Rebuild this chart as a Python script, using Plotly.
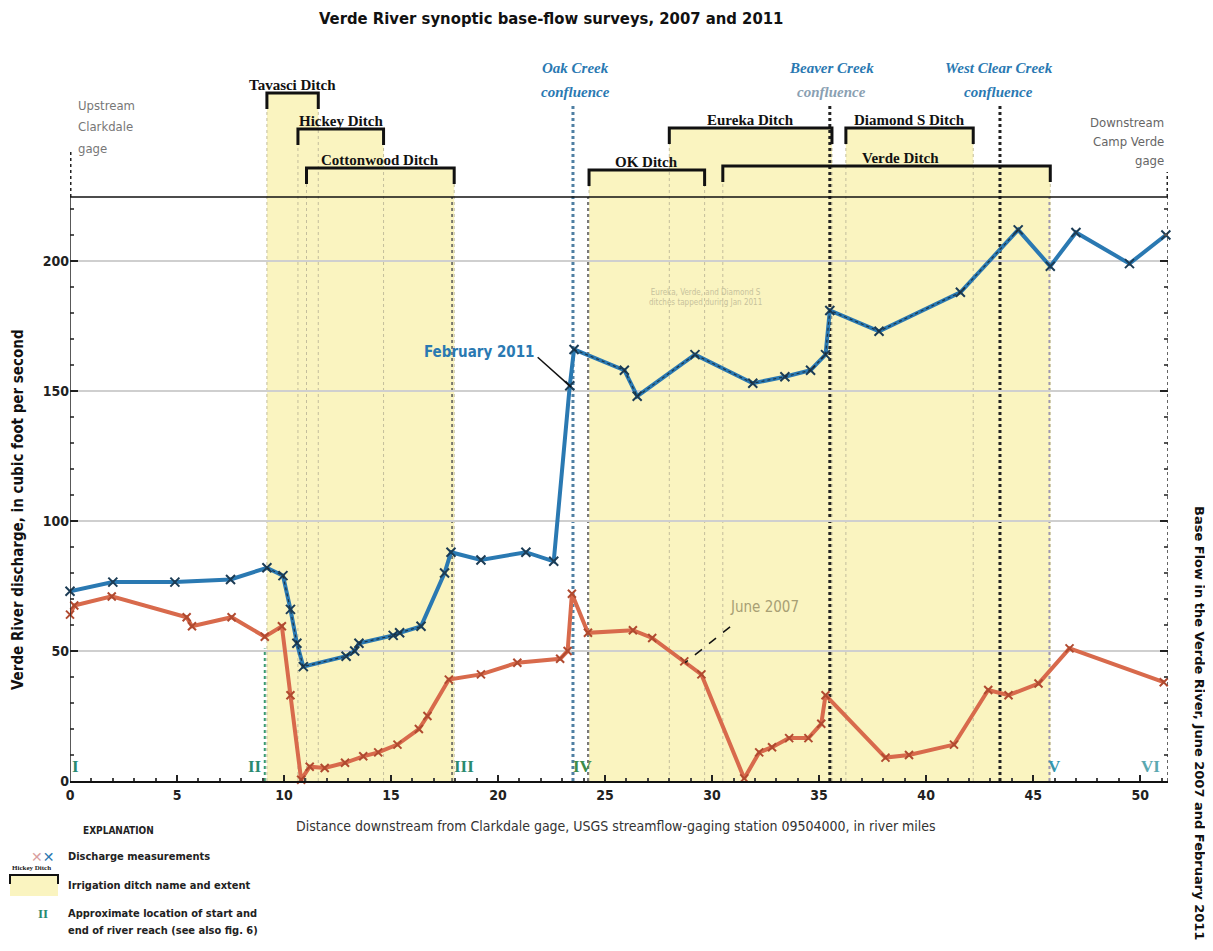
import plotly.graph_objects as go

# ---------------- data ----------------
feb2011_miles = [0.0, 2.0, 4.9, 7.5, 9.2, 9.95, 10.3, 10.6, 10.9, 12.9, 13.3, 13.5, 15.1, 15.4, 16.4,
                 17.5, 17.8, 19.2, 21.3, 22.6, 23.35, 23.55, 25.9, 26.5, 29.2, 31.9, 33.4, 34.6,
                 35.3, 35.5, 37.8, 41.6, 44.3, 45.8, 47.0, 49.5, 51.2]
feb2011_cfs = [73, 76.5, 76.5, 77.5, 82, 79, 66, 53, 44, 48, 50, 53, 56, 57, 59.5,
               80, 88, 85, 88, 84.5, 152, 166, 158, 148, 164, 153, 155.5, 158,
               164, 181, 173, 188, 212, 198, 211, 199, 210]

jun2007_miles = [0.0, 0.2, 1.95, 5.45, 5.7, 7.55, 9.1, 9.9, 10.3, 10.8, 11.2, 11.9, 12.85, 13.7,
                 14.4, 15.3, 16.3, 16.7, 17.7, 19.2, 20.9, 22.9, 23.25, 23.45, 24.2, 26.3, 27.2,
                 28.7, 29.5, 31.5, 32.2, 32.8, 33.6, 34.5, 35.1, 35.3, 38.1, 39.2, 41.3, 42.9,
                 43.85, 45.25, 46.7, 51.1]
jun2007_cfs = [64, 67.5, 71, 63, 59.5, 63, 55.5, 59.5, 33, 0.5, 5.5, 5, 7, 9.5,
               11, 14, 20, 25, 39, 41, 45.5, 47, 50, 72, 57, 58, 55,
               46, 41, 1, 11, 13, 16.5, 16.5, 22, 33, 9, 10, 14, 35,
               33, 37.5, 51, 38]

x_ticks = [0, 5, 10, 15, 20, 25, 30, 35, 40, 45, 50]
y_ticks = [0, 50, 100, 150, 200]

ditch_names = ["Tavasci Ditch", "Hickey Ditch", "Cottonwood Ditch", "OK Ditch",
               "Eureka Ditch", "Diamond S Ditch", "Verde Ditch"]
ditch_start = [9.2, 10.65, 11.05, 24.25, 28.0, 36.25, 30.5]
ditch_end = [11.6, 14.65, 17.95, 29.65, 35.6, 42.2, 45.8]

confluence_names = ["Oak Creek", "Beaver Creek", "West Clear Creek"]
confluence_miles = [23.5, 35.5, 43.45]

reach_labels = ["I", "II", "III", "IV", "V", "VI"]
reach_label_miles = [0.25, 8.65, 18.4, 23.95, 46.0, 50.5]
reach_boundaries = [17.85, 24.2, 45.75]

# ---------------- layout geometry ----------------
# the page body adds an 8 px offset, so positions are planned in reference pixels minus 8
OFF = 8
W, H = 1213 - OFF, 951 - OFF
ML, MR, MT, MB = 70 - OFF, 45, 45 - OFF, 170
X_MAX = 51.3
Y_MAX = 283.1
FRAME_TOP = 224.6
PW, PH = W - ML - MR, H - MT - MB


def px_x(px):
    return (px - OFF - ML) / PW


def px_y(py):
    return (H - MB - (py - OFF)) / PH


def cfs_at(py):
    return px_y(py) * Y_MAX


NARROW = "Liberation Sans Narrow, DejaVu Sans Condensed, Arial Narrow, sans-serif"
SERIF = "Liberation Serif, DejaVu Serif, serif"
BLUE = "#2a79b2"
ORANGE = "#d86a4c"
YELLOW = "#faf4c0"
TEAL = "#2a8a70"

ditch_level = [cfs_at(93), cfs_at(129), cfs_at(168), cfs_at(170), cfs_at(128), cfs_at(128), cfs_at(166)]
ditch_label_x = [(a + b) / 2 for a, b in zip(ditch_start, ditch_end)]
ditch_label_x[6] = 38.8
drop = 6.2

shapes = []
annotations = []


def paper_text(px, py, text, font, **kw):
    d = dict(x=px_x(px), y=px_y(py), xref="paper", yref="paper", text=text, showarrow=False,
             xanchor="center", yanchor="middle", font=font)
    d.update(kw)
    annotations.append(d)


# yellow ditch extents
for x0, x1, lv in zip(ditch_start, ditch_end, ditch_level):
    shapes.append(dict(type="rect", xref="x", yref="y", x0=x0, x1=x1, y0=0, y1=lv,
                       fillcolor=YELLOW, line=dict(width=0), layer="below"))

# faint ditch boundary lines
for x0, x1, lv in zip(ditch_start, ditch_end, ditch_level):
    for xv in (x0, x1):
        shapes.append(dict(type="line", xref="x", yref="y", x0=xv, x1=xv, y0=0, y1=lv - drop,
                           line=dict(color="#c3bd9c", width=1, dash="dot"), layer="below"))

# reach boundary dotted lines
for xv, col in zip(reach_boundaries, ["#555555", "#555555", "#9a94b0"]):
    shapes.append(dict(type="line", xref="x", yref="y", x0=xv, x1=xv, y0=0, y1=FRAME_TOP,
                       line=dict(color=col, width=1.5, dash="dot"), layer="below"))
shapes.append(dict(type="line", xref="x", yref="y", x0=9.1, x1=9.1, y0=0, y1=51,
                   line=dict(color="#3a9a70", width=2, dash="dot"), layer="below"))

# confluence lines
conf_colors = ["#4f7fa3", "#222222", "#222222"]
for xv, col in zip(confluence_miles, conf_colors):
    shapes.append(dict(type="line", xref="x", yref="y", x0=xv, x1=xv, y0=0, y1=cfs_at(104),
                       line=dict(color=col, width=3, dash="dot"), layer="below"))

# gage lines
shapes.append(dict(type="line", xref="x", yref="y", x0=0, x1=0, y0=FRAME_TOP, y1=cfs_at(150),
                   line=dict(color="#222", width=3, dash="dot")))
shapes.append(dict(type="line", xref="x", yref="y", x0=X_MAX, x1=X_MAX, y0=FRAME_TOP, y1=cfs_at(172),
                   line=dict(color="#222", width=3, dash="dot")))

# frame lines
shapes.append(dict(type="line", xref="x", yref="y", x0=0, x1=X_MAX, y0=FRAME_TOP, y1=FRAME_TOP,
                   line=dict(color="#111", width=1.5)))
shapes.append(dict(type="line", xref="x", yref="y", x0=0, x1=0, y0=0, y1=FRAME_TOP,
                   line=dict(color="#222", width=1.5)))
shapes.append(dict(type="line", xref="x", yref="y", x0=X_MAX, x1=X_MAX, y0=0, y1=FRAME_TOP,
                   line=dict(color="#333", width=1.5, dash="dot")))

# brackets and labels
for name, x0, x1, lv, lx in zip(ditch_names, ditch_start, ditch_end, ditch_level, ditch_label_x):
    shapes.append(dict(type="path", xref="x", yref="y",
                       path=f"M {x0},{lv - drop} L {x0},{lv} L {x1},{lv} L {x1},{lv - drop}",
                       line=dict(color="#111", width=3)))
    annotations.append(dict(x=lx, y=lv, xref="x", yref="y", text=name, showarrow=False,
                            yanchor="bottom", yshift=-2,
                            font=dict(family=SERIF, size=15, color="#111", weight="bold")))

# confluence labels
conf_sub_colors = [BLUE, "#8aa0b2", BLUE]
conf_label_x = [23.6, 35.6, 43.4]
for name, lx, sc in zip(confluence_names, conf_label_x, conf_sub_colors):
    annotations.append(dict(x=lx, y=cfs_at(68), xref="x", yref="y", text=f"<i>{name}</i>",
                            showarrow=False, font=dict(family=SERIF, size=15, color=BLUE, weight="bold")))
    annotations.append(dict(x=lx, y=cfs_at(92), xref="x", yref="y", text="<i>confluence</i>",
                            showarrow=False, font=dict(family=SERIF, size=15, color=sc, weight="bold")))

# gage labels
for txt, py in zip(["Upstream", "Clarkdale", "gage"], [105, 126, 148]):
    annotations.append(dict(x=0.3, y=cfs_at(py), xref="x", yref="y", text=txt, showarrow=False,
                            xanchor="left", font=dict(family=NARROW, size=13, color="#777")))
for txt, py in zip(["Downstream", "Camp Verde", "gage"], [122, 141, 160]):
    annotations.append(dict(x=X_MAX - 0.1, y=cfs_at(py), xref="x", yref="y", text=txt, showarrow=False,
                            xanchor="right", font=dict(family=NARROW, size=13, color="#666")))

# reach labels
reach_colors = [TEAL, TEAL, TEAL, "#3c8c4a", "#3596ad", "#5aa8b0"]
for lab, xv, col in zip(reach_labels, reach_label_miles, reach_colors):
    annotations.append(dict(x=xv, y=cfs_at(766), xref="x", yref="y", text=lab, showarrow=False,
                            font=dict(family=SERIF, size=17, color=col, weight="bold")))

# series labels with leaders
shapes.append(dict(type="line", xref="x", yref="y", x0=21.85, y0=163, x1=23.4, y1=151.6,
                   line=dict(color="#111", width=1.5)))
annotations.append(dict(x=19.15, y=165, xref="x", yref="y", text="February 2011", showarrow=False,
                        font=dict(family=NARROW, size=15, color=BLUE, weight="bold")))
shapes.append(dict(type="line", xref="x", yref="y", x0=30.84, y0=59.3, x1=28.74, y1=45.5,
                   line=dict(color="#111", width=1.5, dash="dash")))
annotations.append(dict(x=32.45, y=67, xref="x", yref="y", text="June 2007", showarrow=False,
                        font=dict(family=NARROW, size=15, color="#a89f74")))

annotations.append(dict(x=29.7, y=186, xref="x", yref="y",
                        text="Eureka, Verde, and Diamond S<br>ditches tapped during Jan 2011",
                        showarrow=False, font=dict(family=NARROW, size=8, color="#c7c29c")))

# margin texts
paper_text(551, 18, "Verde River synoptic base-flow surveys, 2007 and 2011",
           dict(family=NARROW, size=16.5, color="#111", weight="bold"))
paper_text(616, 826,
           "Distance downstream from Clarkdale gage, USGS streamflow-gaging station 09504000, in river miles",
           dict(family=NARROW, size=14, color="#333"))
paper_text(18, 510, "Verde River discharge, in cubic foot per second",
           dict(family=NARROW, size=15, color="#111", weight="bold"), textangle=-90)
paper_text(1200, 504, "Base Flow in the Verde River, June 2007 and February 2011",
           dict(family="DejaVu Sans, sans-serif", size=13, color="#111", weight="bold"),
           textangle=90, yanchor="top")

# explanation
paper_text(118, 831, "EXPLANATION", dict(family=NARROW, size=10, color="#222", weight="bold"))
for txt, py in zip(["Discharge measurements", "Irrigation ditch name and extent",
                    "Approximate location of start and", "end of river reach (see also fig. 6)"],
                   [857, 886, 913, 930]):
    paper_text(66, py, txt, dict(family=NARROW, size=11, color="#222", weight="bold"), xanchor="left")
paper_text(42, 857, '<span style="color:#d9a0a0">✕</span><span style="color:#2a79b2">✕</span>',
           dict(family="DejaVu Sans", size=14, color="#555", weight="bold"))
paper_text(43, 913, "II", dict(family=SERIF, size=13, color=TEAL, weight="bold"))
paper_text(31, 868, "Hickey Ditch", dict(family=SERIF, size=7, color="#222", weight="bold"))
shapes.append(dict(type="rect", xref="paper", yref="paper", x0=px_x(10), x1=px_x(58),
                   y0=px_y(896), y1=px_y(875), fillcolor=YELLOW, line=dict(width=0)))
shapes.append(dict(type="path", xref="paper", yref="paper",
                   path=f"M {px_x(10)},{px_y(884)} L {px_x(10)},{px_y(875)} L {px_x(58)},{px_y(875)} L {px_x(58)},{px_y(884)}",
                   line=dict(color="#111", width=2)))

# ---------------- traces ----------------
fig = go.Figure()
fig.add_trace(go.Scatter(x=jun2007_miles, y=jun2007_cfs, mode="lines+markers", name="June 2007",
                         line=dict(color=ORANGE, width=4),
                         marker=dict(symbol="x-thin", size=8, line=dict(color="#b04a30", width=2)),
                         cliponaxis=False, showlegend=False))
fig.add_trace(go.Scatter(x=feb2011_miles, y=feb2011_cfs, mode="lines+markers", name="February 2011",
                         line=dict(color=BLUE, width=4),
                         marker=dict(symbol="x-thin", size=9, line=dict(color="#1c3c55", width=2)),
                         cliponaxis=False, showlegend=False))
# dark dotted edging seen on parts of the February 2011 line
for i0, i1 in [(4, 15), (21, 33)]:
    fig.add_trace(go.Scatter(x=feb2011_miles[i0:i1], y=feb2011_cfs[i0:i1], mode="lines",
                             line=dict(color="#1a2630", width=1.2, dash="dot"), opacity=0.8,
                             cliponaxis=False, showlegend=False, hoverinfo="skip"))
fig.add_trace(go.Scatter(x=[None], y=[None], yaxis="y2", showlegend=False, hoverinfo="skip"))

minor_y = [v for v in range(10, 230, 10) if v % 50 != 0]
fig.update_layout(
    width=W, height=H,
    margin=dict(l=ML, r=MR, t=MT, b=MB),
    paper_bgcolor="white", plot_bgcolor="white",
    showlegend=False,
    shapes=shapes, annotations=annotations,
    xaxis=dict(range=[0, X_MAX], tickvals=x_ticks, ticks="inside", ticklen=6, tickwidth=1.5,
               tickcolor="#222", showline=True, linecolor="#111", linewidth=2, showgrid=False,
               zeroline=False, tickfont=dict(family=NARROW, size=14, color="#222", weight="bold"),
               minor=dict(dtick=1, ticks="inside", ticklen=3, tickcolor="#444")),
    yaxis=dict(range=[0, Y_MAX], tickmode="array", tickvals=y_ticks, ticks="inside", ticklen=8,
               tickwidth=1.5, tickcolor="#222", showline=False, zeroline=False, showgrid=True,
               gridcolor="#cfcfcf", gridwidth=2,
               tickfont=dict(family=NARROW, size=14, color="#222", weight="bold"),
               minor=dict(tickmode="array", tickvals=minor_y, ticks="inside", ticklen=4,
                          tickcolor="#555", showgrid=False)),
    yaxis2=dict(range=[0, Y_MAX], overlaying="y", side="right", tickmode="array", tickvals=y_ticks,
                ticks="inside", ticklen=8, tickwidth=1.5, tickcolor="#222", showticklabels=False,
                showgrid=False, zeroline=False, showline=False,
                minor=dict(tickmode="array", tickvals=minor_y, ticks="inside", ticklen=4,
                           tickcolor="#555", showgrid=False)),
)

fig.write_html("out.html")
